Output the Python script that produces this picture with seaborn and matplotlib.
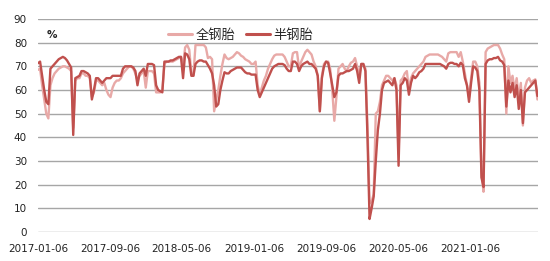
import matplotlib
matplotlib.use("Agg")
import matplotlib.pyplot as plt
import seaborn as sns
import pandas as pd
import numpy as np
from matplotlib.lines import Line2D

start_date = "2017-01-06"
tick_labels = ["2017-01-06", "2017-09-06", "2018-05-06", "2019-01-06",
               "2019-09-06", "2020-05-06", "2021-01-06"]
series_names = ["全钢胎", "半钢胎"]

half_steel = [
    71.3, 72, 66, 60, 55, 54, 69, 70, 71, 72,
    73, 73.5, 74, 73.5, 72.5, 71, 69.5, 41, 65, 65.5,
    66, 68, 68, 67.5, 67, 66, 56, 60, 65, 65,
    64, 63, 64, 65, 65, 65, 66, 66, 66, 66,
    66, 69, 70, 70, 70, 70, 69.5, 68, 62, 67,
    68, 69, 66, 71, 71, 71, 70.5, 62, 60, 59.5,
    59, 72, 72, 72, 72.5, 72.5, 73, 73.5, 74, 74,
    65, 75.5, 75, 73, 66, 66, 71, 72, 72.5, 72.5,
    72, 72, 70.5, 69, 67, 62, 53, 54, 60, 64,
    67.5, 67, 67, 68, 68.5, 69, 69.5, 69.5, 69.5, 68.5,
    67.5, 67, 67, 66.5, 66.5, 66.5, 60, 57, 59, 61,
    63, 65, 67, 69, 70, 70.5, 71, 71, 71, 70.5,
    69, 68, 68, 72, 72, 71, 68, 70, 71, 71.5,
    72, 71, 71, 70, 69, 66, 51, 65, 70, 72,
    71.5, 67, 62, 57, 59, 66, 67, 67, 67.5, 68,
    68, 68.5, 69, 71, 68, 63, 71, 71, 68, 40,
    5.5, 10, 15, 30, 43, 50, 60, 63, 63.5, 64,
    63, 62, 65, 60, 28, 62, 63, 65, 64, 58,
    63, 66, 65, 66, 67.5, 68, 69, 71, 71, 71,
    71, 71, 71, 71, 71, 70.5, 70, 69, 71, 71.5,
    71.5, 71, 71, 70, 71.5, 70.5, 65, 62, 55, 63,
    70, 69.5, 68, 60, 23, 19, 71, 72.5, 73, 73,
    73.5, 73.5, 74, 72.5, 72, 70.5, 53, 64, 59, 63,
    57, 62, 52, 60, 46, 59, 60, 61, 62, 63,
    64, 57.5,
]

all_steel = [
    68.5, 69, 62, 56, 50, 48, 62, 65, 67, 68,
    69, 69.5, 70, 70, 69.5, 69, 68, 44, 64, 65,
    65, 67, 67, 66, 66, 65, 57, 59, 64, 64,
    63, 62, 63, 60, 58, 57, 61, 63, 64, 64,
    65, 67, 68, 69, 70, 70, 69, 67, 64, 66,
    67, 68, 61, 68, 68, 68, 67, 59, 59, 59,
    60, 71, 72, 72, 72, 72, 72.5, 73, 73.5, 74,
    70, 78, 79, 77, 67, 66, 79, 79, 79, 79,
    79, 78, 73.5, 74, 73, 51, 56, 60, 66, 71,
    75, 73.5, 73, 73.5, 74, 75, 76, 75.5, 74.5, 74,
    73, 72.5, 72, 71, 71, 72, 62, 58, 61, 64,
    66, 69, 71, 73, 74.5, 75, 75, 75, 75, 74,
    72, 70, 70, 75.5, 76, 76, 69, 72, 74, 76,
    77, 76, 75, 72, 70, 66, 51, 66, 71, 72,
    72, 69, 60, 47, 57, 69, 70, 71, 69, 68,
    70, 71.5, 72, 73.5, 70, 66, 71, 71, 69, 45,
    12, 13, 16, 50, 51, 55, 62, 64, 66, 66,
    65, 64, 65, 62, 33, 64, 65, 67, 68, 60,
    65, 67, 68, 69, 70, 71, 72, 74, 74.5, 75,
    75, 75, 75, 75, 74.5, 74, 73, 72, 75.5, 76,
    76, 76, 76, 74, 76, 72, 67, 62, 57, 65,
    72, 72, 70, 63, 25, 17, 76, 77.5, 78, 78.5,
    79, 79, 79, 77.5, 75, 73, 50, 70, 63, 66,
    60, 65, 56, 63, 45, 61, 64, 65, 63, 64,
    64.5, 56,
]

dates = pd.date_range(start_date, periods=len(half_steel), freq="7D")
df = pd.DataFrame({"date": dates, series_names[0]: all_steel, series_names[1]: half_steel})
long = df.melt(id_vars="date", var_name="series", value_name="value")

sns.set_theme(style="white")
plt.rcParams["font.family"] = ["DejaVu Sans", "Noto Sans CJK SC"]

fig = plt.figure(figsize=(5.5, 2.61), dpi=100)
ax = fig.add_axes([38 / 550, 1 - 232 / 261, 500 / 550, 213 / 261])

palette = {series_names[0]: "#E8A9A7", series_names[1]: "#C0504D"}
sns.lineplot(data=long, x="date", y="value", hue="series", hue_order=series_names,
             palette=palette, linewidth=1.7, ax=ax, legend=False)
lines = ax.get_lines()
if len(lines) >= 2:
    lines[0].set_zorder(2)
    lines[1].set_zorder(3)

ax.set_ylim(0, 90)
ax.set_yticks(np.arange(0, 91, 10))
ax.set_xlim(dates[0], dates[-1] + pd.Timedelta(days=2))
ax.set_xticks(pd.to_datetime(tick_labels))
ax.set_xticklabels(tick_labels)
ax.set_xlabel("")
ax.set_ylabel("")
ax.grid(axis="y", color="#A6A6A6", linewidth=1.0)
ax.grid(axis="x", visible=False)
for s in ax.spines.values():
    s.set_visible(False)
ax.tick_params(axis="both", length=0, labelsize=7.5, colors="#222222")
ax.tick_params(axis="y", pad=8)
ax.tick_params(axis="x", pad=9)

ax.text(0.018, 0.925, "%", transform=ax.transAxes, fontsize=7.5,
        fontweight="bold", va="center", ha="left", color="#222222")

handles = [Line2D([], [], color=palette[n], linewidth=2.2) for n in series_names]
leg = ax.legend(handles, series_names, loc="center", bbox_to_anchor=(0.405, 0.925),
                ncol=2, frameon=False, handlelength=1.8, handletextpad=0.3,
                columnspacing=0.8, prop={"family": "Noto Sans CJK SC", "size": 9.5})

fig.savefig("out.png", dpi=100, facecolor="white")
